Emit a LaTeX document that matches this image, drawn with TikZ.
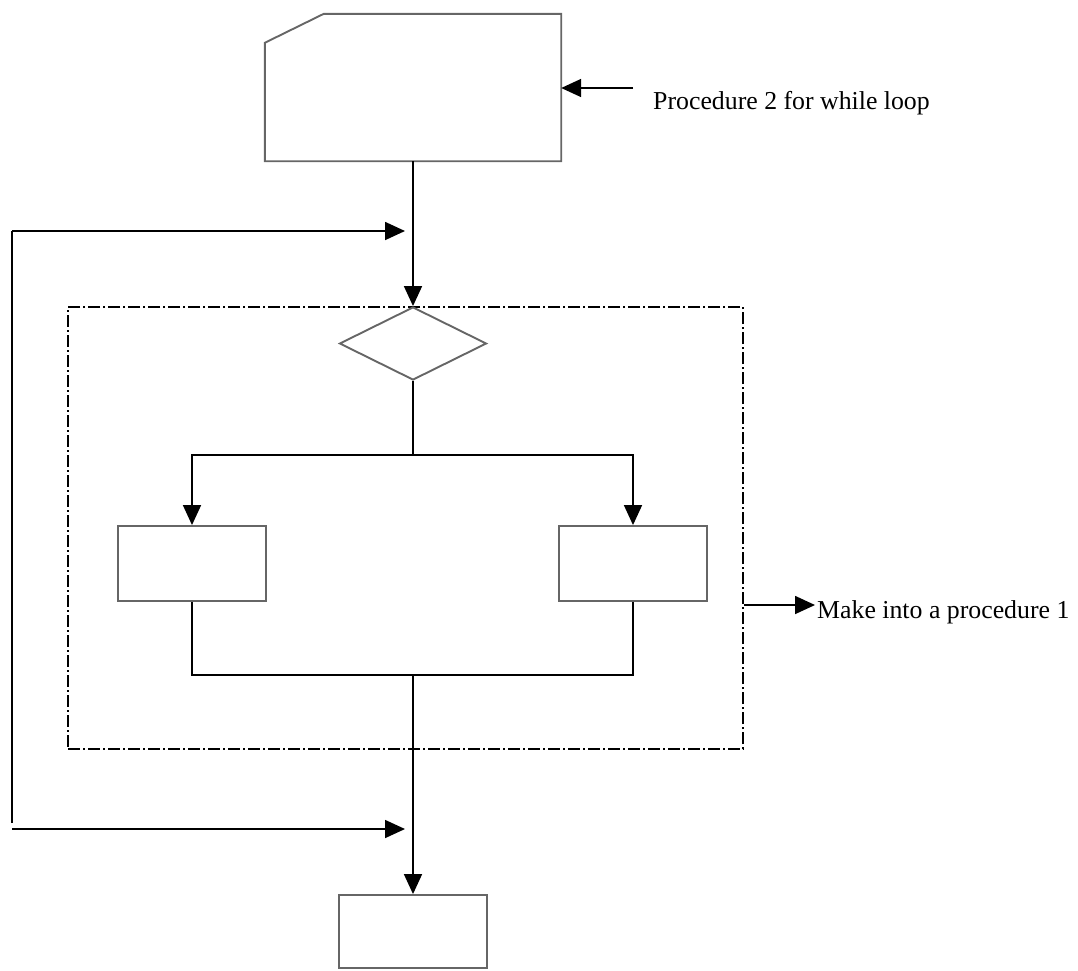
\documentclass[tikz,border=0pt]{standalone}
\usepackage{fontspec}
\setmainfont{Liberation Serif}
\usetikzlibrary{arrows.meta,shapes.geometric,calc}
\begin{document}
\begin{tikzpicture}[x=1pt,y=-1pt,
  conn/.style={draw=black,line width=1.7pt},
  arr/.style={conn,-{Triangle[length=20pt,width=18pt]}},
  shapeline/.style={draw=black!60,line width=1.9pt},
  boxnode/.style={shapeline,rectangle,inner sep=0pt,minimum width=148pt,minimum height=75pt},
  lbl/.style={inner sep=0pt,font=\fontsize{25.8}{30}\selectfont}]
\useasboundingbox (0,0) rectangle (1078,970);
% card (procedure 2)
\node[rectangle,inner sep=0pt,minimum width=296pt,minimum height=147pt] (card) at (413,87.5) {};
\draw[shapeline] ($(card.north west)+(0,29)$) -- ($(card.north west)+(59,0)$) -- (card.north east) -- (card.south east) -- (card.south west) -- cycle;
% dash-dot group
\node[draw=black,line width=1.5pt,dash pattern=on 12pt off 3pt on 2pt off 3pt,rectangle,inner sep=0pt,minimum width=675pt,minimum height=442pt] (group) at (405.5,528) {};
% decision
\node[shapeline,diamond,inner sep=0pt,minimum width=147pt,minimum height=73pt] (dec) at (413,343.5) {};
% boxes
\node[boxnode] (boxL) at (192,563.5) {};
\node[boxnode] (boxR) at (633,563.5) {};
\node[boxnode,minimum height=73pt] (boxB) at (413,931.5) {};
% labels
\node[lbl,anchor=base west] (lab2) at (653,109) {Procedure 2 for while loop};
\node[lbl,anchor=base west] (lab1) at (817,618) {Make into a procedure 1};
% coordinates
\coordinate (p2tail) at (633,88);
\coordinate (split) at (413,455);
\coordinate (join) at (413,675);
\coordinate (loopTopL) at (12,231);
\coordinate (loopTopR) at (405,231);
\coordinate (loopBotV) at (12,823);
\coordinate (loopBotL) at (12,829);
\coordinate (loopBotR) at (405,829);
\coordinate (p1tip) at (815,605);
% connectors
\draw[arr] (p2tail) -- (card.east |- p2tail);
\draw[arr] (card.south) -- (dec.north);
\draw[conn] (dec.south) -- (split);
\draw[arr] (split) -| (boxL.north);
\draw[arr] (split) -| (boxR.north);
\draw[conn] (boxL.south) |- (join);
\draw[conn] (boxR.south) |- (join);
\draw[arr] (join) -- (boxB.north);
\draw[conn] (loopBotV) -- (loopTopL);
\draw[arr] (loopTopL) -- (loopTopR);
\draw[arr] (loopBotL) -- (loopBotR);
\draw[arr] (group.east |- p1tip) -- (p1tip);
\end{tikzpicture}
\end{document}
